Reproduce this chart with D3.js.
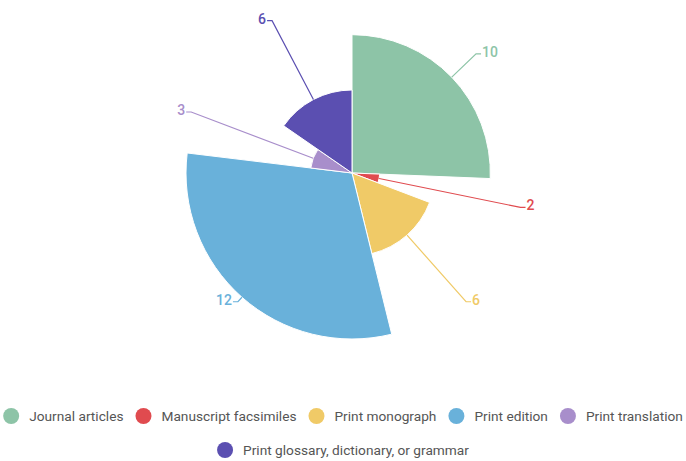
<!DOCTYPE html>
<html><head><meta charset="utf-8">
<script src="https://cdn.jsdelivr.net/npm/d3@7"></script>
<style>
html,body{margin:0;padding:0;background:#fff;}
svg{display:block;font-family:Roboto,"Noto Sans",sans-serif;}
</style></head>
<body><svg id="chart" width="686" height="461"></svg>
<script>
const categories = ["Journal articles","Manuscript facsimiles","Print monograph","Print edition","Print translation","Print glossary, dictionary, or grammar"];
const values = [10, 2, 6, 12, 3, 6];
const colors = ["#8dc4a7","#e04b4f","#f0ca67","#69b1da","#a88ecb","#5b4fb1"];

const W = 686, H = 461;
const cx = 352, cy = 173;
const svg = d3.select("#chart");
const data = categories.map((c,i)=>({name:c, value:values[i], color:colors[i]}));

const rScale = d3.scaleLinear().domain([0, d3.max(values)]).range([0, 166]);
const pie = d3.pie().sort(null).value(d=>d.value);
const arcs = pie(data);
const arc = d3.arc().innerRadius(0).outerRadius(d=>rScale(d.data.value));

const g = svg.append("g").attr("transform",`translate(${cx},${cy})`);
g.selectAll("path.slice").data(arcs).join("path")
  .attr("class","slice")
  .attr("d",arc)
  .attr("fill",d=>d.data.color)
  .attr("stroke","#fff").attr("stroke-width",1);

const labelR = rScale(d3.max(values)) + 6;
const lbl = g.selectAll("g.lbl").data(arcs).join("g").attr("class","lbl");
lbl.each(function(d){
  const a = (d.startAngle + d.endAngle)/2;
  const sx = Math.sin(a), sy = -Math.cos(a);
  const r = rScale(d.data.value);
  const p1 = [sx*r, sy*r];
  const p2 = [sx*labelR, sy*labelR];
  const dir = sx >= 0 ? 1 : -1;
  const p3 = [p2[0] + dir*5, p2[1]];
  const sel = d3.select(this);
  sel.append("polyline")
    .attr("points",[p1,p2,p3].map(p=>p.join(",")).join(" "))
    .attr("fill","none").attr("stroke",d.data.color).attr("stroke-width",1.2);
  sel.append("text")
    .attr("x", p3[0] + dir*1).attr("y", p3[1] - 2)
    .attr("dy","0.35em")
    .attr("text-anchor", dir>0 ? "start":"end")
    .attr("fill", d.data.color)
    .attr("font-size", 14).attr("font-weight", 500)
    .text(d.data.value);
});

// Legend
const legend = svg.append("g");
const fontSize = 13.7, rDot = 8, dotGap = 10, itemGap = 12, maxW = 686;
const items = legend.selectAll("g.item").data(data).join("g").attr("class","item");
items.append("circle").attr("r",rDot).attr("cx",rDot).attr("cy",0).attr("fill",d=>d.color);
items.append("text").attr("x",2*rDot+dotGap).attr("y",0).attr("dy","0.35em")
  .attr("font-size",fontSize).attr("fill","#555").text(d=>d.name);
const widths = [];
items.each(function(){
  const t = d3.select(this).select("text").node().getComputedTextLength();
  widths.push(2*rDot+dotGap+t);
});
const rows = [];
let cur = [], curW = 0;
widths.forEach((w,i)=>{
  const add = cur.length ? itemGap + w : w;
  if (cur.length && curW + add > maxW){ rows.push({idx:cur,w:curW}); cur=[i]; curW=w; }
  else { cur.push(i); curW += add; }
});
if (cur.length) rows.push({idx:cur,w:curW});
const rowY = [416, 450];
rows.forEach((row,ri)=>{
  let x = (W - row.w)/2;
  row.idx.forEach(i=>{
    d3.select(items.nodes()[i]).attr("transform",`translate(${x},${rowY[ri]})`);
    x += widths[i] + itemGap;
  });
});
</script></body></html>
